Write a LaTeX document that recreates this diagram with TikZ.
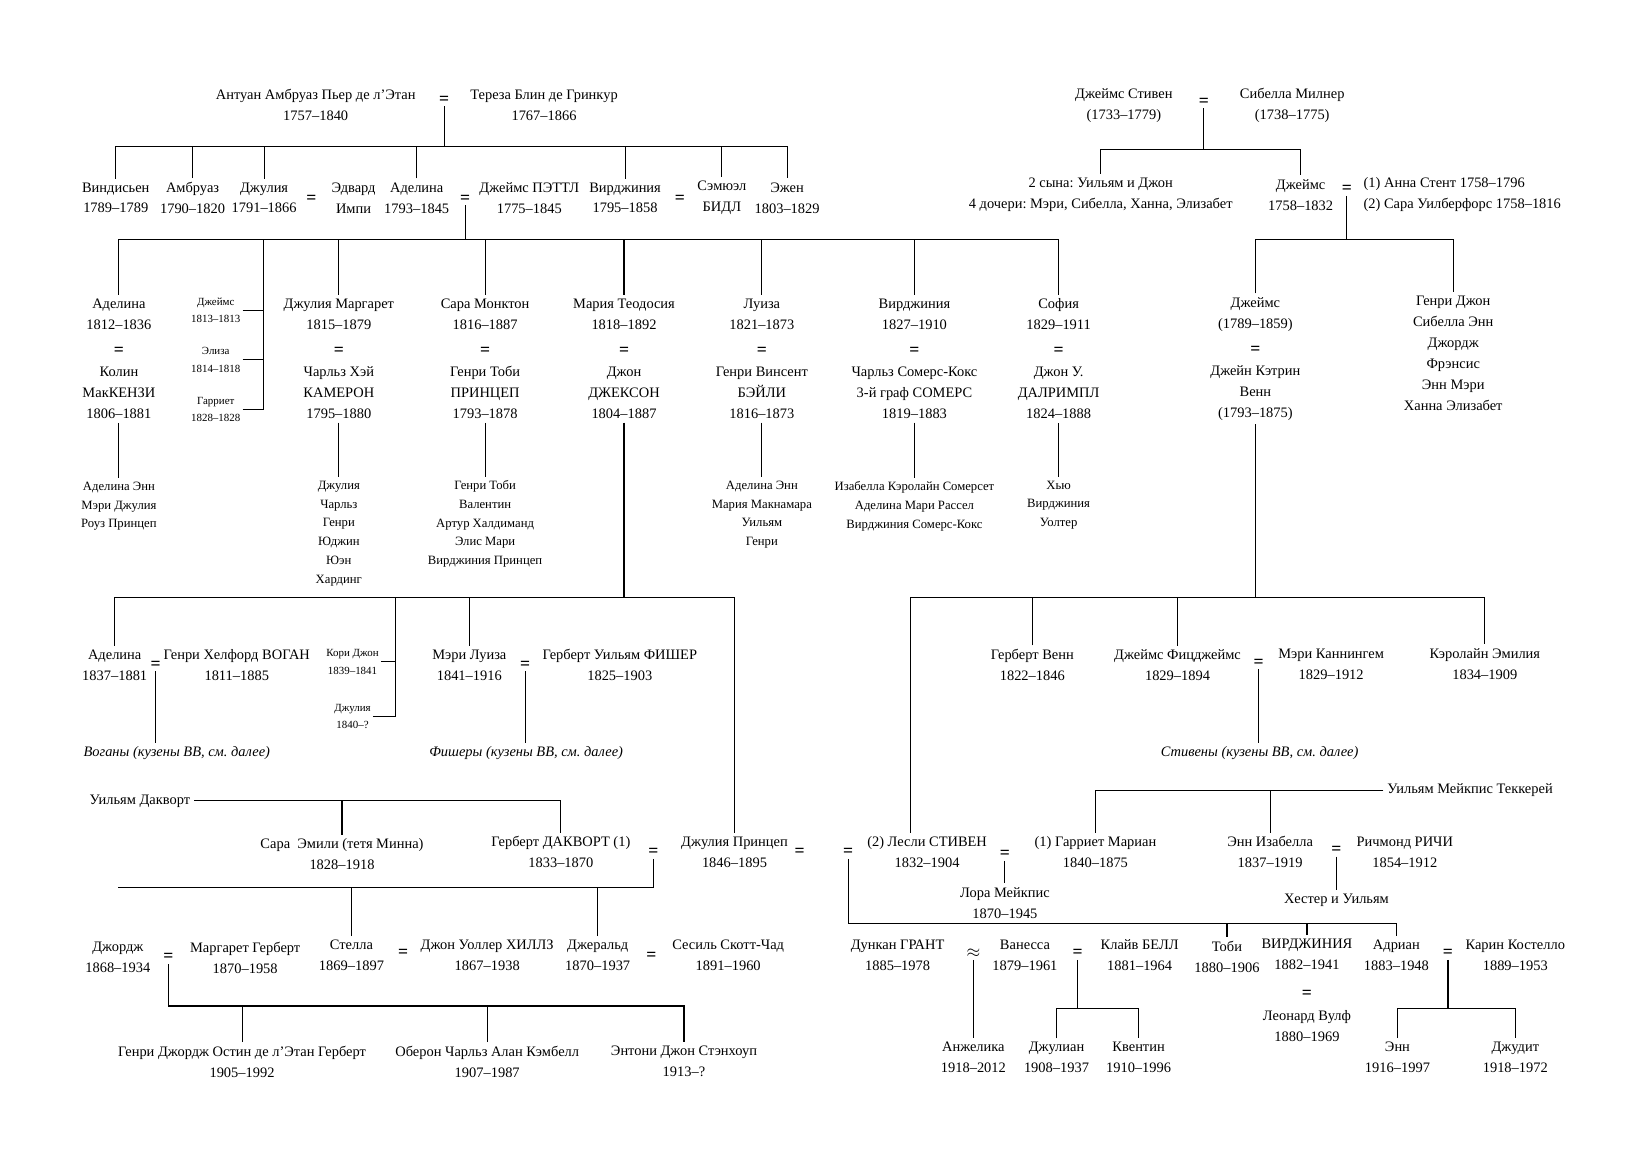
\documentclass[tikz,border=0pt]{standalone}
\usepackage{fontspec}
\setmainfont{Liberation Serif}
\frenchspacing
\newcommand\mainsize{\fontsize{8.2}{11.9}\selectfont}
\newcommand\kidsize{\fontsize{7.2}{10.6}\selectfont}
\newcommand\tinysize{\fontsize{6.2}{9.8}\selectfont}
\newcommand\eqsize{\fontsize{10}{12}\selectfont\bfseries}
\newcommand\wed{{\eqsize =}}

\begin{document}
\begin{tikzpicture}[x=0.021cm,y=-0.021cm,line width=0.6pt,
  person/.style={align=center,font=\mainsize,inner sep=2pt},
  kids/.style={align=center,font=\kidsize,inner sep=2pt},
  brief/.style={align=center,font=\tinysize,inner sep=1pt},
  remark/.style={font=\mainsize\itshape,inner sep=2pt},
  eq/.style={font=\eqsize,inner sep=1pt}]
\useasboundingbox (0,0) rectangle (1568,1108);

% де л'Этан
\node[person] (antoine) at (300,100) {Антуан Амбруаз Пьер де л’Этан\\1757–1840};
\node[eq] (eqAT) at (422,95) {=};
\node[person] (therese) at (517,100) {Тереза Блин де Гринкур\\1767–1866};
\node[person] (vindis) at (110,188) {Виндисьен\\1789–1789};
\node[person] (ambr) at (183,188) {Амбруаз\\1790–1820};
\node[person] (juliaL) at (251,188) {Джулия\\1791–1866};
\node[eq] (eqJI) at (296,189) {=};
\node[person] (impey) at (336,188) {Эдвард\\Импи};
\node[person] (adelineL) at (396,188) {Аделина\\1793–1845};
\node[eq] (eqAP) at (442,189) {=};
\node[person] (pattle) at (503,188) {Джеймс ПЭТТЛ\\1775–1845};
\node[person] (virgL) at (594,188) {Вирджиния\\1795–1858};
\node[eq] (eqVB) at (646,189) {=};
\node[person] (bidl) at (686,188) {Сэмюэл\\БИДЛ};
\node[person] (eugen) at (748,188) {Эжен\\1803–1829};
\coordinate (barL) at (422,139);
\draw (eqAT.south) -- (barL);
\draw (vindis.north) |- (barL) -| (eugen.north);
\foreach \c in {ambr,juliaL,adelineL,virgL,bidl}
  \draw (\c.north) -- (\c.north |- barL);

% Пэттлы
\node[person] (adelineP) at (113,341) {Аделина\\1812–1836\\[3pt]\wed\\Колин\\МакКЕНЗИ\\1806–1881};
\node[brief] (jamesP) at (205,295) {Джеймс\\1813–1813};
\node[brief] (eliza) at (205,342) {Элиза\\1814–1818};
\node[brief] (harrietP) at (205,389) {Гарриет\\1828–1828};
\node[person] (juliaM) at (322,341) {Джулия Маргарет\\1815–1879\\[3pt]\wed\\Чарльз Хэй\\КАМЕРОН\\1795–1880};
\node[person] (sarahM) at (461,341) {Сара Монктон\\1816–1887\\[3pt]\wed\\Генри Тоби\\ПРИНЦЕП\\1793–1878};
\node[person] (mariaT) at (593,341) {Мария Теодосия\\1818–1892\\[3pt]\wed\\Джон\\ДЖЕКСОН\\1804–1887};
\node[person] (louisa) at (724,341) {Луиза\\1821–1873\\[3pt]\wed\\Генри Винсент\\БЭЙЛИ\\1816–1873};
\node[person] (virgP) at (869,341) {Вирджиния\\1827–1910\\[3pt]\wed\\Чарльз Сомерс-Кокс\\3-й граф СОМЕРС\\1819–1883};
\node[person] (sophia) at (1006,341) {София\\1829–1911\\[3pt]\wed\\Джон У.\\ДАЛРИМПЛ\\1824–1888};
\coordinate (barP) at (442,228);
\draw (eqAP.south) -- (barP);
\draw (adelineP.north) |- (barP) -| (sophia.north);
\foreach \c in {juliaM,sarahM,mariaT,louisa,virgP}
  \draw (\c.north) -- (\c.north |- barP);
\coordinate (kidsP) at (250,228);
\draw (harrietP.east) -| (kidsP);
\foreach \c in {jamesP,eliza}
  \draw (\c.east) -- (\c.east -| kidsP);

\node[kids] (gkMK) at (113,481) {Аделина Энн\\Мэри Джулия\\Роуз Принцеп};
\node[kids] (gkCam) at (322,507) {Джулия\\Чарльз\\Генри\\Юджин\\Юэн\\Хардинг};
\node[kids] (gkPr) at (461,498) {Генри Тоби\\Валентин\\Артур Халдиманд\\Элис Мари\\Вирджиния Принцеп};
\node[kids] (gkBay) at (724,489) {Аделина Энн\\Мария Макнамара\\Уильям\\Генри};
\node[kids] (gkSom) at (869,481) {Изабелла Кэролайн Сомерсет\\Аделина Мари Рассел\\Вирджиния Сомерс-Кокс};
\node[kids] (gkDal) at (1006,480) {Хью\\Вирджиния\\Уолтер};
\draw (adelineP.south) -- (gkMK.north);
\draw (juliaM.south) -- (gkCam.north);
\draw (sarahM.south) -- (gkPr.north);
\draw (louisa.south) -- (gkBay.north);
\draw (virgP.south) -- (gkSom.north);
\draw (sophia.south) -- (gkDal.north);

% Джексоны
\node[person] (adelineJ) at (109,632) {Аделина\\1837–1881};
\node[eq] (eqAV) at (148,632) {=};
\node[person] (vaughan) at (225,632) {Генри Хелфорд ВОГАН\\1811–1885};
\node[remark] (vaughans) at (168,716) {Воганы (кузены ВВ, см. далее)};
\node[brief] (cory) at (335,629) {Кори Джон\\1839–1841};
\node[brief] (juliaJ) at (335,681) {Джулия\\1840–?};
\node[person] (maryL) at (446,632) {Мэри Луиза\\1841–1916};
\node[eq] (eqMF) at (499,632) {=};
\node[person] (fisher) at (589,632) {Герберт Уильям ФИШЕР\\1825–1903};
\node[remark] (fishers) at (500,716) {Фишеры (кузены ВВ, см. далее)};
\node[person] (juliaPr) at (698,810) {Джулия Принцеп\\1846–1895};
\coordinate (barJ) at (593,568);
\draw (mariaT.south) -- (barJ);
\draw (adelineJ.north) |- (barJ) -| (juliaPr.north);
\draw (maryL.north) -- (maryL.north |- barJ);
\coordinate (kidsJ) at (376,568);
\draw (juliaJ.east) -| (kidsJ);
\draw (cory.east) -- (cory.east -| kidsJ);
\draw (eqAV.south) -- (eqAV.south |- vaughans.north);
\draw (eqMF.south) -- (eqMF.south |- fishers.north);

% Стивены
\node[person] (jamesSt) at (1068,100) {Джеймс Стивен\\(1733–1779)};
\node[eq] (eqSM) at (1144,97) {=};
\node[person] (milner) at (1228,100) {Сибелла Милнер\\(1738–1775)};
\node[person] (sons) at (1046,185) {2 сына: Уильям и Джон\\4 дочери: Мэри, Сибелла, Ханна, Элизабет};
\node[person] (jamesS) at (1236,185) {Джеймс\\1758–1832};
\node[eq] (eqJW) at (1280,180) {=};
\node[person,anchor=west,align=left] (wives) at (1292,185) {(1) Анна Стент 1758–1796\\(2) Сара Уилберфорс 1758–1816};
\coordinate (barS) at (1144,142);
\draw (eqSM.south) -- (barS);
\draw (sons.north) |- (barS) -| (jamesS.north);
\node[person] (jamesV) at (1193,341) {Джеймс\\(1789–1859)\\[3pt]\wed\\Джейн Кэтрин\\Венн\\(1793–1875)};
\node[person] (henryJ) at (1381,336) {Генри Джон\\Сибелла Энн\\Джордж\\Фрэнсис\\Энн Мэри\\Ханна Элизабет};
\coordinate (barW) at (1280,228);
\draw (eqJW.south) -- (barW);
\draw (jamesV.north) |- (barW) -| (henryJ.north);

\node[person] (leslie) at (881,810) {(2) Лесли СТИВЕН\\1832–1904};
\node[person] (herbertV) at (981,632) {Герберт Венн\\1822–1846};
\node[person] (fitzJ) at (1119,632) {Джеймс Фицджеймс\\1829–1894};
\node[eq] (eqFC) at (1196,630) {=};
\node[person] (cunningham) at (1265,631) {Мэри Каннингем\\1829–1912};
\node[person] (caroline) at (1411,631) {Кэролайн Эмилия\\1834–1909};
\node[remark] (stephens) at (1197,716) {Стивены (кузены ВВ, см. далее)};
\coordinate (barV) at (1193,568);
\coordinate (leslieTop) at ([xshift=-0.34cm]leslie.north);
\draw (jamesV.south) -- (barV);
\draw (leslieTop) |- (barV) -| (caroline.north);
\foreach \c in {herbertV,fitzJ}
  \draw (\c.north) -- (\c.north |- barV);
\draw (eqFC.south) -- (eqFC.south |- stephens.north);

% Даквортты
\node[person] (wDuck) at (133,761) {Уильям Дакворт};
\node[person] (sarahE) at (325,812) {Сара\ \ Эмили (тетя Минна)\\1828–1918};
\node[person] (herbertD) at (533,810) {Герберт ДАКВОРТ (1)\\1833–1870};
\node[eq] (eqHJ) at (621,810) {=};
\node[eq] (eqJL) at (760,810) {=};
\node[eq] (eqLJ) at (806,810) {=};
\draw (wDuck.east) -| (herbertD.north);
\draw (sarahE.north) -- (sarahE.north |- wDuck.east);

\node[person] (george) at (112,910) {Джордж\\1868–1934};
\node[eq] (eqGM) at (160,910) {=};
\node[person] (margaret) at (233,910) {Маргарет Герберт\\1870–1958};
\node[person] (stella) at (334,908) {Стелла\\1869–1897};
\node[eq] (eqSH) at (383,906) {=};
\node[person] (hills) at (463,908) {Джон Уоллер ХИЛЛЗ\\1867–1938};
\node[person] (gerald) at (568,908) {Джеральд\\1870–1937};
\node[eq] (eqGC) at (619,909) {=};
\node[person] (cecil) at (692,908) {Сесиль Скотт-Чад\\1891–1960};
\coordinate (barD) at (112,843);
\draw (eqHJ.south) |- (barD);
\foreach \c in {stella,gerald}
  \draw (\c.north) -- (\c.north |- barD);

\node[person] (henryG) at (230,1009) {Генри Джордж Остин де л’Этан Герберт\\1905–1992};
\node[person] (oberon) at (463,1009) {Оберон Чарльз Алан Кэмбелл\\1907–1987};
\node[person] (anthony) at (650,1009) {Энтони Джон Стэнхоуп\\1913–?};
\coordinate (barG) at (160,956);
\draw (eqGM.south) -- (barG) -| (anthony.north);
\foreach \c in {henryG,oberon}
  \draw (\c.north) -- (\c.north |- barG);

% Теккереи
\node[eq] (eqLL) at (955,812) {=};
\node[person] (laura) at (955,858) {Лора Мейкпис\\1870–1945};
\node[person] (harrietM) at (1041,810) {(1) Гарриет Мариан\\1840–1875};
\node[person] (thack) at (1397,751) {Уильям Мейкпис Теккерей};
\node[person] (anneI) at (1207,810) {Энн Изабелла\\1837–1919};
\node[eq] (eqAR) at (1270,808) {=};
\node[person] (ritchie) at (1335,810) {Ричмонд РИЧИ\\1854–1912};
\node[person] (hester) at (1270,856) {Хестер и Уильям};
\draw (eqLL.south) -- (laura.north);
\draw (thack.west) -| (harrietM.north);
\draw (anneI.north) -- (anneI.north |- thack.west);
\draw (eqAR.south) -- (hester.north);

% Блумсбери
\node[person] (duncan) at (853,908) {Дункан ГРАНТ\\1885–1978};
\node[eq] (eqDV) at (925,906) {$\approx$};
\node[person] (vanessa) at (974,908) {Ванесса\\1879–1961};
\node[eq] (eqVC) at (1024,906) {=};
\node[person] (clive) at (1083,908) {Клайв БЕЛЛ\\1881–1964};
\node[person] (toby) at (1166,909) {Тоби\\1880–1906};
\node[person] (virginia) at (1242,907) {ВИРДЖИНИЯ\\1882–1941};
\node[eq] (eqVL) at (1242,945) {=};
\node[person] (leonard) at (1242,975) {Леонард Вулф\\1880–1969};
\node[person] (adrian) at (1327,908) {Адриан\\1883–1948};
\node[eq] (eqAK) at (1376,906) {=};
\node[person] (karin) at (1440,908) {Карин Костелло\\1889–1953};
\coordinate (barSt) at (806,878);
\draw (eqLJ.south) -- (barSt) -| (adrian.north);
\foreach \c in {toby,virginia}
  \draw (\c.north) -- (\c.north |- barSt);

\node[person] (angelica) at (925,1005) {Анжелика\\1918–2012};
\node[person] (julian) at (1004,1005) {Джулиан\\1908–1937};
\node[person] (quentin) at (1082,1005) {Квентин\\1910–1996};
\node[person] (anneA) at (1328,1005) {Энн\\1916–1997};
\node[person] (judith) at (1440,1005) {Джудит\\1918–1972};
\draw (eqDV.south) -- (angelica.north);
\coordinate (barB) at (1024,958);
\draw (eqVC.south) -- (barB);
\draw (julian.north) |- (barB) -| (quentin.north);
\coordinate (barA) at (1376,958);
\draw (eqAK.south) -- (barA);
\draw (anneA.north) |- (barA) -| (judith.north);
\end{tikzpicture}
\end{document}
